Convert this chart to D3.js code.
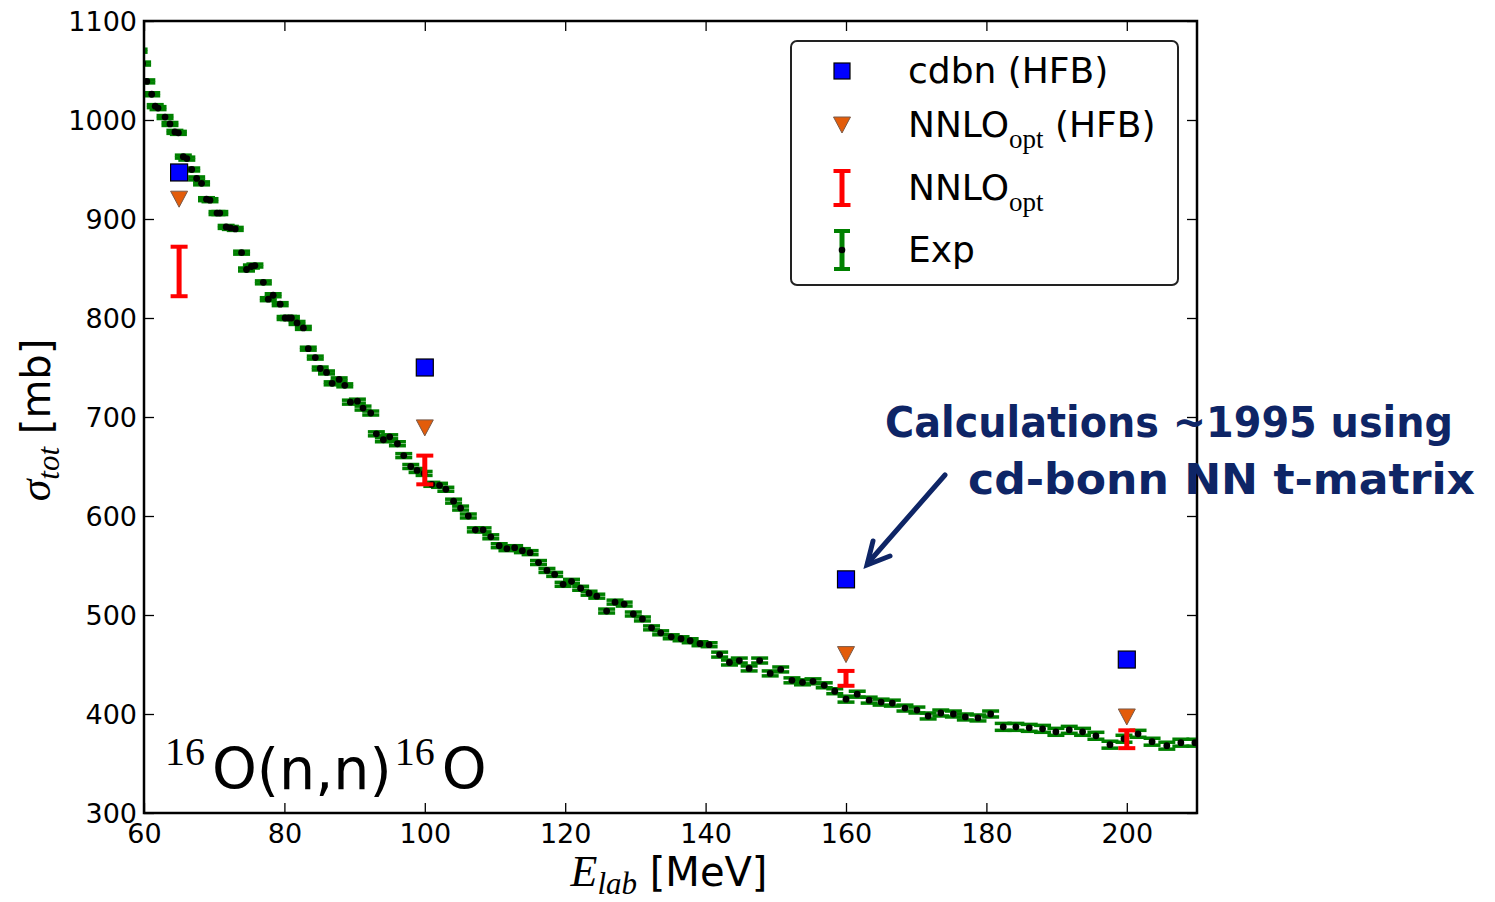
<!DOCTYPE html>
<html>
<head>
<meta charset="utf-8">
<script src="https://cdn.jsdelivr.net/npm/d3@7"></script>
<style>
  html, body { margin: 0; padding: 0; background: #fff; }
  svg { display: block; }
</style>
</head>
<body>
<svg id="chart" width="1495" height="902"></svg>
<script>
// ---------------- data ----------------
const expE = [59.3,59.8,60.4,61.1,61.6,62.0,63.0,63.7,64.4,64.9,65.6,66.1,66.8,67.5,68.2,68.9,69.4,70.4,70.8,71.7,72.3,73.0,73.9,74.6,75.3,75.8,77.0,77.7,78.4,79.4,80.1,80.6,81.0,81.8,
  82.7,83.4,84.4,85.1,86.0,86.8,87.8,88.6,89.4,90.4,91.2,92.3,93.1,94.1,95.0,96.1,97.0,98.0,98.9,99.9,101.0,102.1,103.0,104.1,105.1,106.2,107.2,108.3,109.4,
  110.6,111.7,112.8,113.9,115.0,116.2,117.4,118.5,119.7,120.9,122.2,123.4,124.5,125.9,127.1,128.4,129.7,131.0,132.3,133.6,135.1,136.5,137.8,139.2,140.5,
  142.0,143.4,144.8,146.2,147.7,149.2,150.7,152.3,153.8,155.3,156.9,158.4,160.0,161.6,163.3,165.0,166.6,168.4,170.1,171.7,173.5,175.3,177.0,178.8,180.6,
  182.4,184.2,186.1,188.0,189.9,191.8,193.7,195.6,197.6,199.6,201.6,203.6,205.7,207.7,209.7];
const expSigma = [1070,1057,1039,1026,1014,1012,1003,996,988,987,963,961,950,941,936,920,919,906,906,892,891,890,866,849,852,853,836,819,823,814,800,800,800,795,
  790,769,760,749,745,734,738,732,715,716,709,704,683,677,680,673,661,650,646,643,632,631,627,615,608,600,586,586,579,
  570,567,568,565,563,553,545,541,531,534,527,522,519,504,513,511,501,496,487,482,478,476,474,471,470,
  460,452,454,446,454,441,445,434,432,433,429,423,415,420,414,412,411,406,404,398,401,400,397,396,400,
  387,387,386,385,382,384,382,378,369,375,380,372,368,371,371];
const expErr = [1.5,1.5,1.5,1.5,1.5,1.5,1.5,1.5,1.5,1.5,1.5,1.5,1.5,1.5,1.5,1.5,1.5,1.5,1.5,1.5,1.5,1.5,1.5,1.5,1.5,1.5,1.5,1.5,1.5,1.5,1.5,1.5,1.5,1.5,
  1.5,1.5,1.5,1.5,1.5,1.5,1.5,1.5,2,2,2,2,2,2,2,2,2,2,2,2,2,2,2,2,2,2,2,2,2,
  2,2,2,2,2,2,2,2,2,2,2,2,2,2,2,2,2,2,2,2,2,2,2,2,2,
  2.5,2.5,2.5,2.5,2.5,2.5,2.5,2.5,2.5,2.5,2.5,2.5,3,3,3,3,3,3,3,3,3,3,3,3,3,
  3.5,3.5,3.5,3.5,3.5,3.5,3.5,3.5,3.5,3.5,3.5,3.5,3.5,3.5,3.5];

const calcE = [65, 100, 160, 200];
const cdbnHFB = [947, 750, 536, 455];
const nnloHFB = [920, 689, 460, 397];
const nnloCenter = [847, 646.5, 436, 374.5];
const nnloErr = [25, 14.5, 7.5, 9];

const xTicks = [60, 80, 100, 120, 140, 160, 180, 200];
const yTicks = [300, 400, 500, 600, 700, 800, 900, 1000, 1100];

// ---------------- layout ----------------
const svg = d3.select("#chart");
const L = 144, R = 1197, T = 21, B = 813;
const x = d3.scaleLinear().domain([60, 210]).range([L, R]);
const y = d3.scaleLinear().domain([300, 1100]).range([B, T]);

const SANS = "'DejaVu Sans', 'Bitstream Vera Sans', sans-serif";
const SERIF = "'Liberation Serif', 'DejaVu Serif', serif";

svg.append("rect").attr("width", 1495).attr("height", 902).attr("fill", "#fff");

svg.append("defs").append("clipPath").attr("id", "plotclip")
  .append("rect").attr("x", L).attr("y", T).attr("width", R - L).attr("height", B - T);

const plot = svg.append("g").attr("clip-path", "url(#plotclip)");

// experimental error bars
const GREEN = "#008000";
const expIdx = d3.range(expE.length);
const eg = plot.append("g");
const capHalf = 8.5;
expIdx.forEach(i => {
  const cx = x(expE[i]);
  const y1 = y(expSigma[i] + expErr[i]), y2 = y(expSigma[i] - expErr[i]);
  eg.append("line").attr("x1", cx).attr("x2", cx).attr("y1", y1).attr("y2", y2)
    .attr("stroke", GREEN).attr("stroke-width", 4);
  [y1, y2].forEach(yy => eg.append("line")
    .attr("x1", cx - capHalf).attr("x2", cx + capHalf).attr("y1", yy).attr("y2", yy)
    .attr("stroke", GREEN).attr("stroke-width", 3.5));
});
eg.selectAll("circle").data(expIdx).join("circle")
  .attr("cx", i => x(expE[i])).attr("cy", i => y(expSigma[i])).attr("r", 3.4)
  .attr("fill", "#000");

// NNLO_opt error bars (red)
const RED = "#ff0000";
calcE.forEach((e, i) => {
  const cx = x(e);
  const y1 = y(nnloCenter[i] + nnloErr[i]), y2 = y(nnloCenter[i] - nnloErr[i]);
  plot.append("line").attr("x1", cx).attr("x2", cx).attr("y1", y1).attr("y2", y2)
    .attr("stroke", RED).attr("stroke-width", 5);
  [y1, y2].forEach(yy => plot.append("line")
    .attr("x1", cx - 8.5).attr("x2", cx + 8.5).attr("y1", yy).attr("y2", yy)
    .attr("stroke", RED).attr("stroke-width", 4));
});

// NNLO_opt (HFB) triangles
const ORANGE = "#e35c0a";
const tri = (cx, cy, w, h) => `M${cx - w/2},${cy - h/2}L${cx + w/2},${cy - h/2}L${cx},${cy + h/2}Z`;
plot.selectAll("path.tri").data(calcE).join("path").attr("class", "tri")
  .attr("d", (e, i) => tri(x(e), y(nnloHFB[i]), 17, 16))
  .attr("fill", ORANGE).attr("stroke", "#7a5a48").attr("stroke-width", 1);

// cdbn (HFB) squares
plot.selectAll("rect.sq").data(calcE).join("rect").attr("class", "sq")
  .attr("x", e => x(e) - 8.5).attr("y", (e, i) => y(cdbnHFB[i]) - 8.5)
  .attr("width", 17).attr("height", 17)
  .attr("fill", "#0000ff").attr("stroke", "#000").attr("stroke-width", 1.2);

// ---------------- axes ----------------
const tickLen = 10;
const axB = svg.append("g").attr("transform", `translate(0,${B})`)
  .call(d3.axisBottom(x).tickValues(xTicks).tickSize(-tickLen).tickPadding(10).tickFormat(d3.format("d")));
const axT = svg.append("g").attr("transform", `translate(0,${T})`)
  .call(d3.axisTop(x).tickValues(xTicks).tickSize(-tickLen).tickFormat(""));
const axL = svg.append("g").attr("transform", `translate(${L},0)`)
  .call(d3.axisLeft(y).tickValues(yTicks).tickSize(-tickLen).tickPadding(7).tickFormat(d3.format("d")));
const axR = svg.append("g").attr("transform", `translate(${R},0)`)
  .call(d3.axisRight(y).tickValues(yTicks).tickSize(-tickLen).tickFormat(""));
[axB, axT, axL, axR].forEach(a => {
  a.select(".domain").remove();
  a.selectAll(".tick line").attr("stroke", "#000").attr("stroke-width", 1.3);
  a.selectAll(".tick text").attr("fill", "#000").style("font-family", SANS).style("font-size", "27px");
});
axL.selectAll(".tick text").attr("dy", "0.36em");
axB.selectAll(".tick text").attr("dy", "0.73em");

svg.append("rect").attr("x", L).attr("y", T).attr("width", R - L).attr("height", B - T)
  .attr("fill", "none").attr("stroke", "#000").attr("stroke-width", 2.5);

// axis labels
const xl = svg.append("text").attr("x", 669).attr("y", 886).attr("text-anchor", "middle").attr("fill", "#000");
xl.append("tspan").text("E").style("font-family", SERIF).style("font-style", "italic").style("font-size", "44px");
xl.append("tspan").text("lab").attr("dy", 8).style("font-family", SERIF).style("font-style", "italic").style("font-size", "31px");
xl.append("tspan").text(" [MeV]").attr("dy", -8).style("font-family", SANS).style("font-size", "40px");

const yl = svg.append("text").attr("transform", "translate(50,420) rotate(-90)")
  .attr("text-anchor", "middle").attr("fill", "#000");
yl.append("tspan").text("σ").style("font-family", SERIF).style("font-style", "italic").style("font-size", "44px");
yl.append("tspan").text("tot").attr("dy", 9).style("font-family", SERIF).style("font-style", "italic").style("font-size", "31px");
yl.append("tspan").text(" [mb]").attr("dy", -9).style("font-family", SANS).style("font-size", "40px");

// reaction label
const rl = svg.append("text").attr("x", 165).attr("y", 789).attr("fill", "#000");
rl.append("tspan").text("16").attr("dy", -24).style("font-family", SERIF).style("font-size", "40px");
rl.append("tspan").text("O(n,n)").attr("dy", 24).attr("dx", 7).style("font-family", SANS).style("font-size", "57px");
rl.append("tspan").text("16").attr("dy", -24).attr("dx", 3).style("font-family", SERIF).style("font-size", "40px");
rl.append("tspan").text("O").attr("dy", 24).attr("dx", 7).style("font-family", SANS).style("font-size", "57px");

// ---------------- legend ----------------
const lg = svg.append("g");
lg.append("rect").attr("x", 791).attr("y", 41).attr("width", 387).attr("height", 244).attr("rx", 6)
  .attr("fill", "#fff").attr("stroke", "#222").attr("stroke-width", 2);
const mx = 842, tx = 908;
const rows = [71, 125, 188, 250];
lg.append("rect").attr("x", mx - 8).attr("y", rows[0] - 8).attr("width", 16).attr("height", 16)
  .attr("fill", "#0000ff").attr("stroke", "#000").attr("stroke-width", 1.2);
lg.append("path").attr("d", tri(mx, rows[1], 17, 16)).attr("fill", ORANGE).attr("stroke", "#7a5a48").attr("stroke-width", 1);
// red bar
lg.append("line").attr("x1", mx).attr("x2", mx).attr("y1", rows[2] - 17).attr("y2", rows[2] + 17).attr("stroke", RED).attr("stroke-width", 5);
[rows[2] - 17, rows[2] + 17].forEach(yy => lg.append("line").attr("x1", mx - 8.5).attr("x2", mx + 8.5).attr("y1", yy).attr("y2", yy).attr("stroke", RED).attr("stroke-width", 4));
// green bar
lg.append("line").attr("x1", mx).attr("x2", mx).attr("y1", rows[3] - 19).attr("y2", rows[3] + 19).attr("stroke", GREEN).attr("stroke-width", 5);
[rows[3] - 19, rows[3] + 19].forEach(yy => lg.append("line").attr("x1", mx - 8).attr("x2", mx + 8).attr("y1", yy).attr("y2", yy).attr("stroke", GREEN).attr("stroke-width", 4));
lg.append("circle").attr("cx", mx).attr("cy", rows[3]).attr("r", 3.3).attr("fill", "#000");

const legendLabels = [
  [["cdbn (HFB)", "main"]],
  [["NNLO", "main"], ["opt", "sub"], [" (HFB)", "main"]],
  [["NNLO", "main"], ["opt", "sub"]],
  [["Exp", "main"]]
];
legendLabels.forEach((parts, r) => {
  const t = lg.append("text").attr("x", tx).attr("y", rows[r] + 12).attr("fill", "#000");
  let prevSub = false;
  parts.forEach(([s, kind]) => {
    const sp = t.append("tspan").text(s);
    if (kind === "sub") {
      sp.attr("dy", 11).style("font-family", SERIF).style("font-size", "27px");
      prevSub = true;
    } else {
      if (prevSub) sp.attr("dy", -11);
      prevSub = false;
      sp.style("font-family", SANS).style("font-size", "36px");
    }
  });
});

// ---------------- annotation ----------------
const NAVY = "#0e2566";
const ann = svg.append("g").attr("fill", NAVY)
  .style("font-family", SANS).style("font-weight", "bold").style("font-size", "43px");
ann.append("text").attr("x", 885).attr("y", 437).attr("textLength", 568).attr("lengthAdjust", "spacingAndGlyphs")
  .text("Calculations ~1995 using");
ann.append("text").attr("x", 968).attr("y", 494).attr("textLength", 507).attr("lengthAdjust", "spacingAndGlyphs")
  .text("cd-bonn NN t-matrix");
// arrow
svg.append("line").attr("x1", 945).attr("y1", 475).attr("x2", 868).attr("y2", 563)
  .attr("stroke", NAVY).attr("stroke-width", 5).attr("stroke-linecap", "round");
svg.append("path").attr("d", "M873,541 L867,565 L890,556")
  .attr("fill", "none").attr("stroke", NAVY).attr("stroke-width", 5)
  .attr("stroke-linecap", "round").attr("stroke-linejoin", "miter");
</script>
</body>
</html>
